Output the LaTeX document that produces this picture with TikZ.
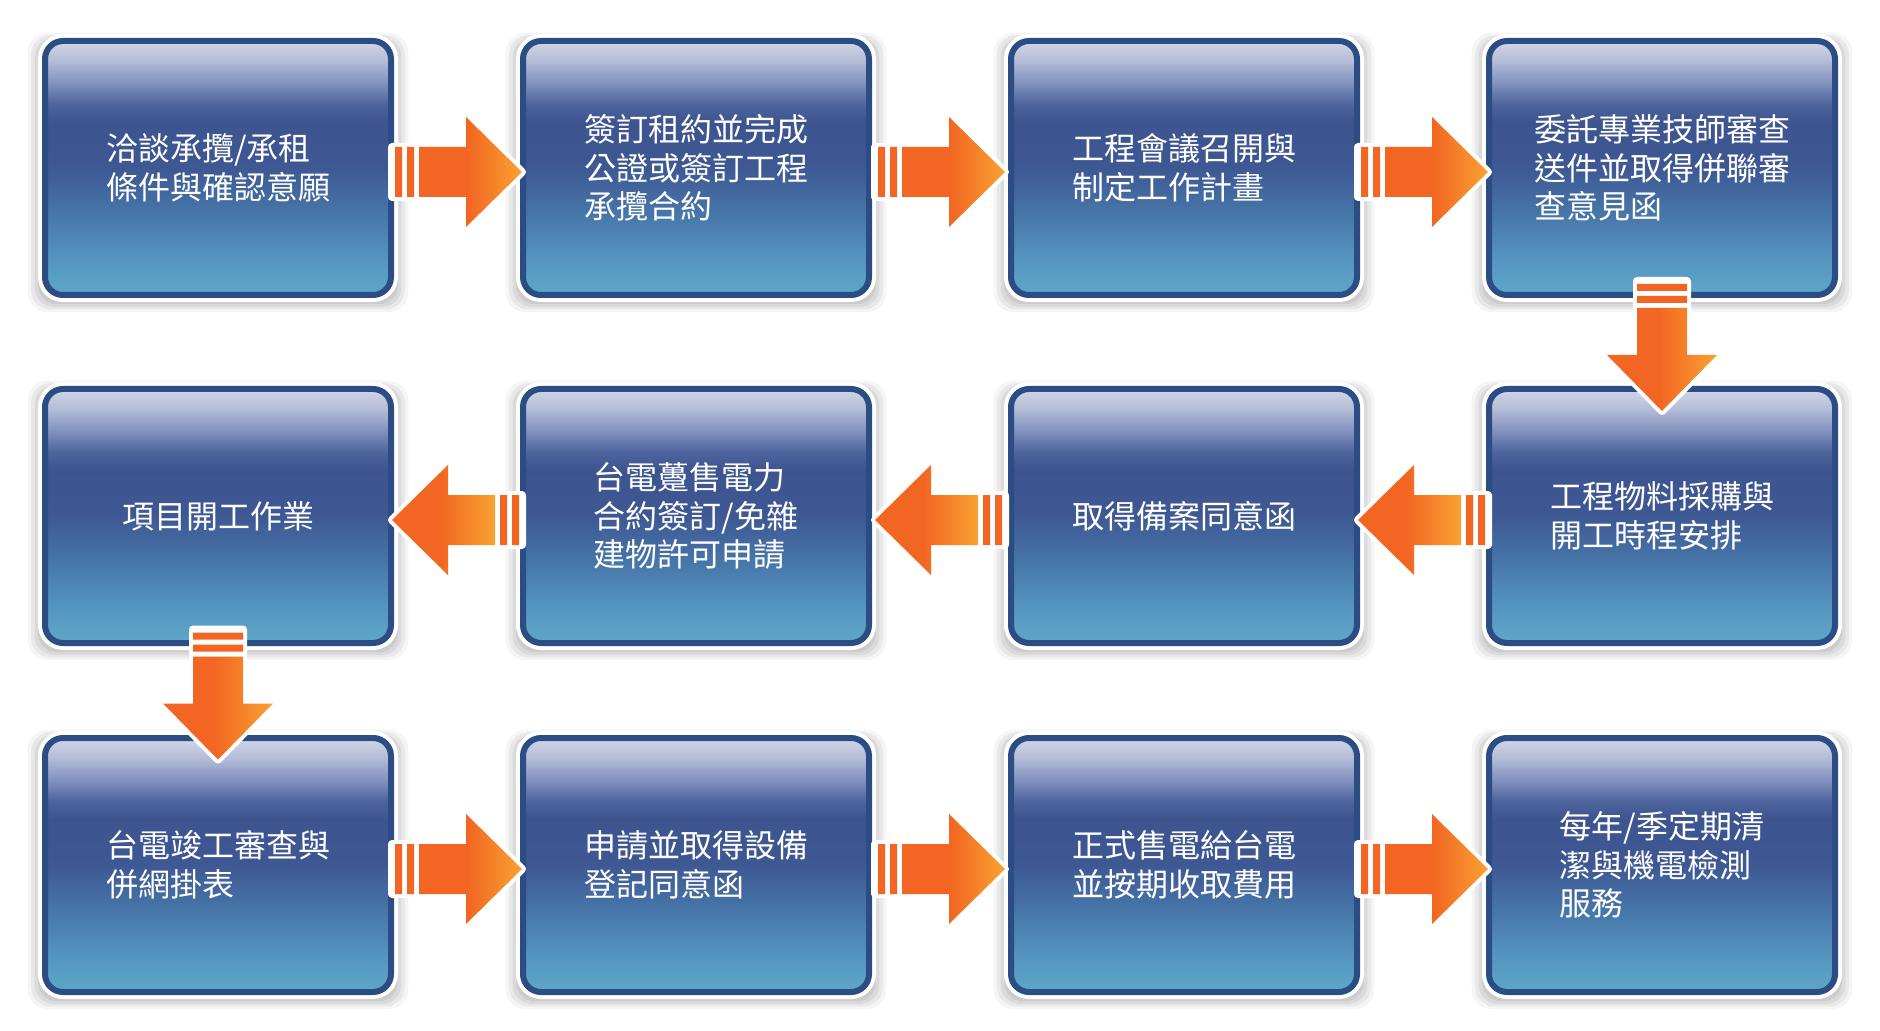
\documentclass[tikz,border=0pt]{standalone}
\usepackage{fontspec}
\newfontfamily\cjkfont{Noto Sans CJK TC}
\usepackage{tikz}
\usetikzlibrary{calc,shadows}
\definecolor{rimblue}{HTML}{2C4C84}
\definecolor{gA}{HTML}{D2D7E7}
\definecolor{gB}{HTML}{B3BCD7}
\definecolor{gC}{HTML}{7F8FBD}
\definecolor{gD}{HTML}{4D639C}
\definecolor{gE}{HTML}{3D548F}
\definecolor{gF}{HTML}{3E5893}
\definecolor{gG}{HTML}{4776A9}
\definecolor{gH}{HTML}{5494BF}
\definecolor{gI}{HTML}{5EA8C9}
\definecolor{arrowdark}{HTML}{F26522}
\definecolor{arrowlight}{HTML}{F9A232}
\pgfdeclareverticalshading{boxgrad}{100bp}{color(0bp)=(gI); color(25bp)=(gI);
  color(32.5bp)=(gH); color(41bp)=(gG); color(50bp)=(gF); color(59bp)=(gE);
  color(62.5bp)=(gD); color(66.5bp)=(gC); color(71bp)=(gB); color(75bp)=(gA);
  color(100bp)=(gA)}
\pgfdeclarehorizontalshading{arrowgrad}{100bp}{color(0bp)=(arrowdark);
  color(48bp)=(arrowdark); color(75bp)=(arrowlight); color(100bp)=(arrowlight)}
\tikzstyle{stepbox} = [rectangle,rounded corners=9pt,minimum width=173pt,
  minimum height=127pt,inner sep=0pt,shade,shading=boxgrad,draw=rimblue,
  line width=3pt,text=white,align=left,
  font=\cjkfont\fontsize{16}{19.3}\selectfont,
  general shadow={fill=black,opacity=0.06,shadow scale=1.02,shadow yshift=-2pt},
  general shadow={fill=black,opacity=0.06,shadow scale=1.04,shadow yshift=-2pt},
  general shadow={fill=black,opacity=0.06,shadow scale=1.06,shadow yshift=-2pt},
  general shadow={fill=black,opacity=0.05,shadow scale=1.08,shadow yshift=-2pt},
  general shadow={fill=black,opacity=0.04,shadow scale=1.10,shadow yshift=-2pt},
  preaction={draw=white,line width=7pt}]
% block arrow with two bars, centred between two anchors
\newcommand{\flowarrow}[3]{%
  \begin{scope}[shift={($(#1)!0.5!(#2)+(0,-4)$)},rotate=#3]
    \fill[white,draw=white,line width=4pt,line join=round]
      (-65,-25) -- (9,-25) -- (9,-55) -- (65,0) -- (9,55) -- (9,25) -- (-65,25) -- cycle;
    \fill[arrowdark] (-62,-25) rectangle (-55,25) (-50,-25) rectangle (-43,25);
    \shade[shading=arrowgrad]
      (-38,-25) -- (9,-25) -- (9,-55) -- (65,0) -- (9,55) -- (9,25) -- (-38,25) -- cycle;
  \end{scope}}

\begin{document}
\begin{tikzpicture}[x=0.5pt,y=0.5pt]

    \fill[white] (0,0) rectangle (1880,1030);
    \useasboundingbox (0,0) rectangle (1880,1030);

    \node[stepbox] (talk) at (218,862) {洽談承攬/承租\\條件與確認意願};
    \node[stepbox] (lease) at (696,862) {簽訂租約並完成\\公證或簽訂工程\\承攬合約};
    \node[stepbox] (plan) at (1184,862) {工程會議召開與\\制定工作計畫};
    \node[stepbox] (review) at (1662,862) {委託專業技師審查\\送件並取得併聯審\\查意見函};

    \node[stepbox] (buy) at (1662,514) {工程物料採購與\\開工時程安排};
    \node[stepbox] (filing) at (1184,514) {取得備案同意函};
    \node[stepbox] (ppa) at (696,514) {台電躉售電力\\合約簽訂/免雜\\建物許可申請};
    \node[stepbox] (start) at (218,514) {項目開工作業};

    \node[stepbox] (meter) at (218,165) {台電竣工審查與\\併網掛表};
    \node[stepbox] (equip) at (696,165) {申請並取得設備\\登記同意函};
    \node[stepbox] (sell) at (1184,165) {正式售電給台電\\並按期收取費用};
    \node[stepbox] (service) at (1662,165) {每年/季定期清\\潔與機電檢測\\服務};

    \flowarrow{talk.east}{lease.west}{0}
    \flowarrow{lease.east}{plan.west}{0}
    \flowarrow{plan.east}{review.west}{0}
    \flowarrow{review.south}{buy.north}{-90}

    \flowarrow{buy.west}{filing.east}{180}
    \flowarrow{filing.west}{ppa.east}{180}
    \flowarrow{ppa.west}{start.east}{180}
    \flowarrow{start.south}{meter.north}{-90}

    \flowarrow{meter.east}{equip.west}{0}
    \flowarrow{equip.east}{sell.west}{0}
    \flowarrow{sell.east}{service.west}{0}

\end{tikzpicture}
\end{document}
